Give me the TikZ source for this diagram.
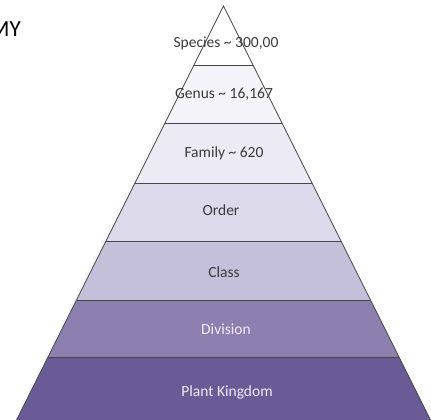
\documentclass[tikz,border=0pt]{standalone}
\usepackage{fontspec}
\setmainfont{Carlito}
\usetikzlibrary{positioning}
\definecolor{LineGray}{RGB}{70,70,70}
\definecolor{TextGray}{RGB}{58,58,58}
\definecolor{LightText}{RGB}{238,235,245}
\definecolor{BandA}{RGB}{255,255,255}
\definecolor{BandB}{RGB}{244,243,250}
\definecolor{BandC}{RGB}{236,234,244}
\definecolor{BandD}{RGB}{220,217,234}
\definecolor{BandE}{RGB}{197,192,218}
\definecolor{BandF}{RGB}{141,128,176}
\definecolor{BandG}{RGB}{106,90,150}

\begin{document}
\begin{tikzpicture}[x=1pt,y=-1pt]
  \useasboundingbox (0,0) rectangle (431,420);
  % bands of the pyramid, apex at (223.5,6)
  \foreach \t/\b/\c in {6/65/BandA,65/123/BandB,123/183/BandC,183/241/BandD,241/300/BandE,300/357/BandF,357/420/BandG} {
    \fill[\c] ({223.5-0.5*(\t-6)},\t) -- ({223.5+0.5*(\t-6)},\t) -- ({223.5+0.5*(\b-6)},\b) -- ({223.5-0.5*(\b-6)},\b) -- cycle;
  }
  \foreach \t in {65,123,183,241,300,357} {
    \draw[LineGray,line width=0.7pt] ({223.5-0.5*(\t-6)},\t) -- ({223.5+0.5*(\t-6)},\t);
  }
  \draw[LineGray,line width=0.7pt] (16.5,420) -- (223.5,6) -- (430.5,420);
  % labels
  \node[text=TextGray,font=\fontsize{15.5}{18}\selectfont] (species) at (226,43) {Species \textasciitilde{} 300,00};
  \node[text=TextGray,font=\fontsize{15.5}{18}\selectfont] (genus) at (224,94) {Genus \textasciitilde{} 16,167};
  \node[text=TextGray,font=\fontsize{15.5}{18}\selectfont] (family) at (224,153) {Family \textasciitilde{} 620};
  \node[text=TextGray,font=\fontsize{15.5}{18}\selectfont] (order) at (221,210) {Order};
  \node[text=TextGray,font=\fontsize{15.5}{18}\selectfont] (class) at (224,272) {Class};
  \node[text=LightText,font=\fontsize{15.5}{18}\selectfont] (division) at (226,329) {Division};
  \node[text=LightText,font=\fontsize{15.5}{18}\selectfont] (kingdom) at (227,392) {Plant Kingdom};
  \node[anchor=east,inner sep=0pt,font=\fontsize{23}{26}\selectfont] (title) at (21,29) {MY};
\end{tikzpicture}
\end{document}
